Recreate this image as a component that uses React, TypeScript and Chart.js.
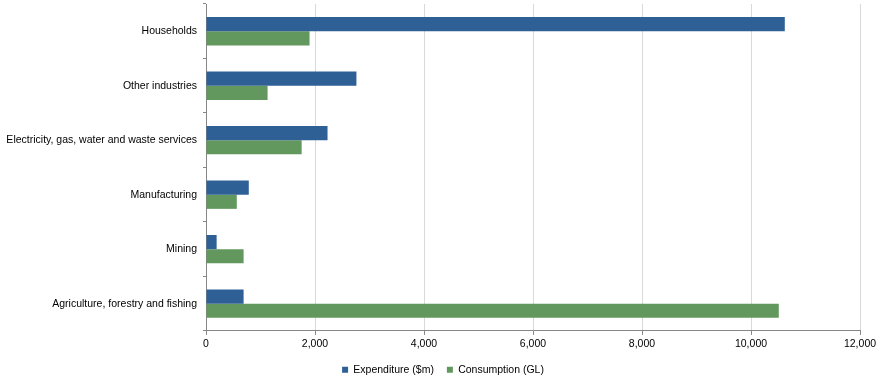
import React, { useEffect, useRef } from "react";
import { Chart, registerables } from "chart.js";

Chart.register(...registerables);

const categories = [
  "Households",
  "Other industries",
  "Electricity, gas, water and waste services",
  "Manufacturing",
  "Mining",
  "Agriculture, forestry and fishing",
];
const expenditure = [10620, 2760, 2230, 785, 195, 690];
const consumption = [1900, 1130, 1755, 565, 690, 10510];
const seriesNames = ["Expenditure ($m)", "Consumption (GL)"];

const FONT = "'Liberation Sans', Arial, sans-serif";

const shiftLegend = {
  id: "shiftLegend",
  afterLayout(chart: any) {
    const lg = chart.legend;
    if (lg) {
      lg.left += 13;
      lg.right += 13;
      lg.top -= 2;
      lg.bottom -= 2;
    }
  },
};

export default function App() {
  const ref = useRef<HTMLCanvasElement | null>(null);
  useEffect(() => {
    if (!ref.current) return;
    const chart = new Chart(ref.current, {
      type: "bar",
      data: {
        labels: categories,
        datasets: [
          {
            label: seriesNames[0],
            data: expenditure,
            backgroundColor: "#2E6096",
            categoryPercentage: 0.52,
            barPercentage: 1,
          },
          {
            label: seriesNames[1],
            data: consumption,
            backgroundColor: "#62985E",
            categoryPercentage: 0.52,
            barPercentage: 1,
          },
        ],
      },
      plugins: [shiftLegend],
      options: {
        indexAxis: "y",
        animation: false,
        responsive: false,
        maintainAspectRatio: false,
        layout: { padding: { top: 4, right: 22, left: 0, bottom: -10 } },
        plugins: {
          tooltip: { enabled: false },
          legend: {
            position: "bottom",
            labels: {
              boxWidth: 6,
              boxHeight: 6,
              padding: 13,
              color: "#000",
              font: { family: FONT, size: 10.5 },
            },
          },
        },
        scales: {
          x: {
            min: 0,
            max: 12000,
            ticks: {
              stepSize: 2000,
              color: "#000",
              font: { family: FONT, size: 10.5 },
              padding: 3,
              maxRotation: 0,
              callback: (v: any) => Number(v).toLocaleString("en-US"),
            },
            grid: {
              color: "#d9d9d9",
              tickColor: "#868686",
              tickLength: 4,
              drawTicks: true,
            },
            border: { color: "#868686", width: 1 },
          },
          y: {
            offset: true,
            afterFit: (s: any) => {
              s.width = 206;
              s.paddingTop = 0;
              s.paddingBottom = 0;
            },
            ticks: {
              color: "#000",
              font: { family: FONT, size: 10.5 },
              padding: 6,
            },
            grid: {
              offset: true,
              drawOnChartArea: false,
              tickColor: "#868686",
              tickLength: 3,
            },
            border: { color: "#868686", width: 1 },
          },
        },
      },
    });
    return () => chart.destroy();
  }, []);
  return (
    <div style={{ position: "absolute", left: 0, top: 0, width: 882, height: 377, background: "#fff" }}>
      <canvas ref={ref} width={882} height={377} style={{ width: 882, height: 377 }} />
    </div>
  );
}
